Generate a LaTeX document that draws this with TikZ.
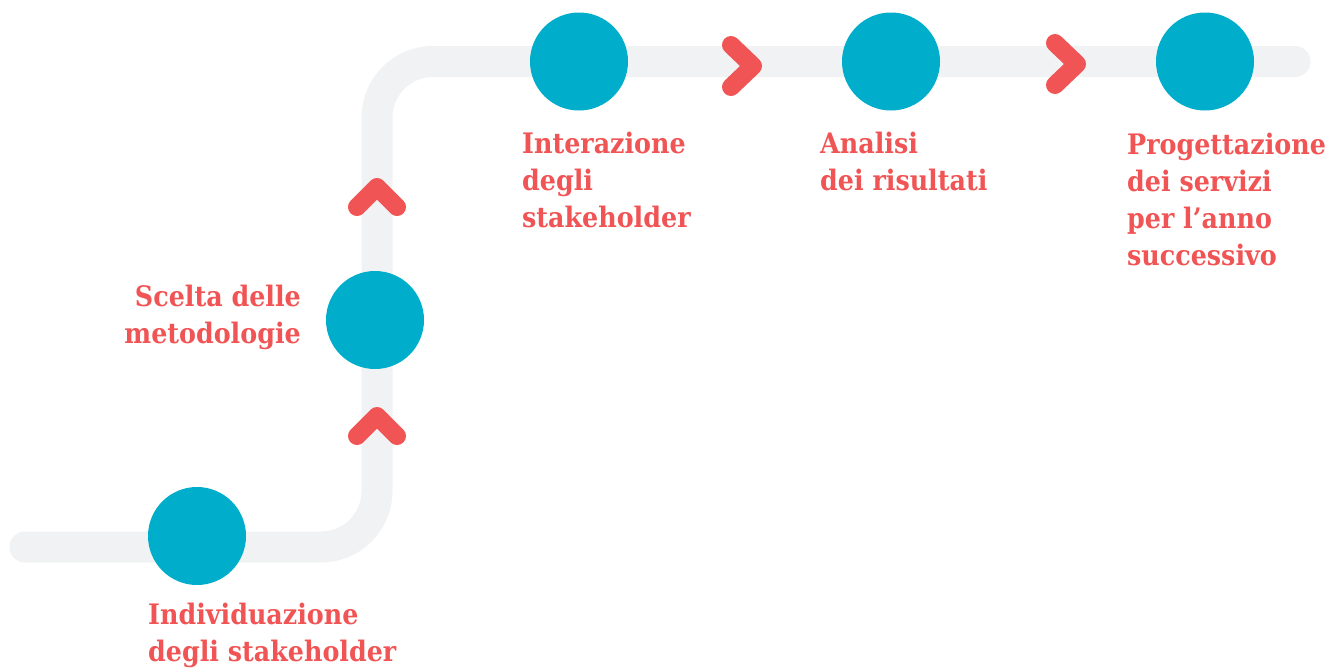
\documentclass[tikz,border=0pt]{standalone}
\usepackage{fontspec}
\newfontfamily\labelfont{DejaVu Serif Condensed}
\definecolor{stepteal}{RGB}{0,174,204}
\definecolor{stepred}{RGB}{240,84,84}
\definecolor{trackgray}{RGB}{241,242,243}
\begin{document}
\begin{tikzpicture}[x=1pt,y=-1pt,
	track/.style={draw=trackgray, line width=31pt, line cap=round, rounded corners=56pt},
	stopdot/.style={circle, fill=stepteal, minimum size=98pt, inner sep=0pt},
	chevron/.style={draw=stepred, line width=18pt, line cap=round, line join=round},
	steplabel/.style={text=stepred, font=\labelfont\bfseries\fontsize{28.2}{37}\selectfont, inner sep=0pt}]
	\useasboundingbox (0,0) rectangle (1327,667);
	% track
	\draw[track] (25,547) -- (377,547) -- (377,61.5) -- (1295,61.5);
	% stops
	\node[stopdot] (indiv) at (197,536) {};
	\node[stopdot] (scelta) at (375,320) {};
	\node[stopdot] (inter) at (579,61.5) {};
	\node[stopdot] (analisi) at (891,61.5) {};
	\node[stopdot] (prog) at (1205,61.5) {};
	% chevrons
	\draw[chevron] (357,436) -- ++(20,-20) -- ++(20,20);
	\draw[chevron] (357,207) -- ++(20,-20) -- ++(20,20);
	\draw[chevron] (731,45) -- ++(22,21) -- ++(-22,21);
	\draw[chevron] (1055,43) -- ++(22,21) -- ++(-22,21);
	% labels
	\node[steplabel, anchor=north west, align=left] (indivtxt) at (148,603) {Individuazione\\degli stakeholder};
	\node[steplabel, anchor=north east, align=right] (sceltatxt) at (301,285) {Scelta delle\\metodologie};
	\node[steplabel, anchor=north west, align=left] (intertxt) at (522,132) {Interazione\\degli\\stakeholder};
	\node[steplabel, anchor=north west, align=left] (analisitxt) at (820,132) {Analisi\\dei risultati};
	\node[steplabel, anchor=north west, align=left] (progtxt) at (1127,133) {Progettazione\\dei servizi\\per l’anno\\successivo};
\end{tikzpicture}
\end{document}
